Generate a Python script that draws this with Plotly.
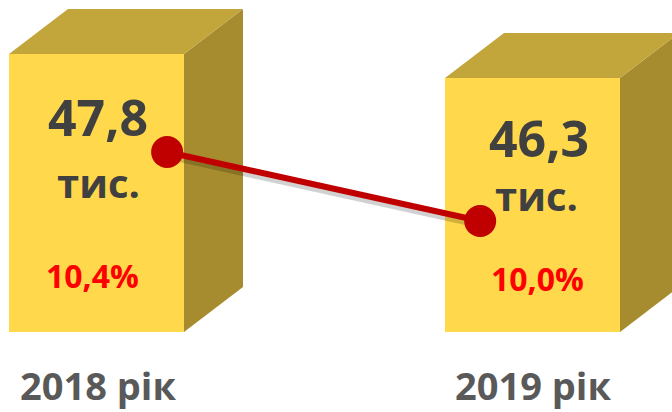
import plotly.graph_objects as go

# ---- data ----
years = ["2018 рік", "2019 рік"]
values = [47.8, 46.3]             # тис.
value_labels = ["47,8", "46,3"]
unit_label = "тис."
shares = [10.4, 10.0]             # %
share_labels = ["10,4%", "10,0%"]

# ---- layout constants (pixel geometry) ----
W, H = 672, 412
FRONT = "#FFD84B"
TOP = "#C3A63B"
SIDE = "#A68B2F"
LINE = "#C00000"

idx = [0, 1]
px_per_x = 436.0
x0_px = 96.5
xr = [-x0_px / px_per_x, (W - x0_px) / px_per_x]
bar_w = 175.0 / px_per_x
dx = 59.0 / px_per_x

px_per_v = 16.0
v_top = values[0] + 54.0 / px_per_v
yr = [v_top - H / px_per_v, v_top]
base = v_top - 332.0 / px_per_v
dy = 45.0 / px_per_v

px_per_s = 172.5
s_top = shares[0] + 152.0 / px_per_s
y2r = [s_top - H / px_per_s, s_top]
line_x = [i + off for i, off in zip(idx, [0.162, -0.12])]

fig = go.Figure()

# 3D side and top faces
for i, v in zip(idx, values):
    xl, xrr = i - bar_w / 2, i + bar_w / 2
    fig.add_trace(go.Scatter(
        x=[xrr, xrr + dx, xrr + dx, xrr, xrr],
        y=[v, v + dy, base + dy, base, v],
        fill="toself", fillcolor=SIDE, line=dict(width=0), mode="lines",
        hoverinfo="skip", showlegend=False))
    fig.add_trace(go.Scatter(
        x=[xl, xl + dx, xrr + dx, xrr, xl],
        y=[v, v + dy, v + dy, v, v],
        fill="toself", fillcolor=TOP, line=dict(width=0), mode="lines",
        hoverinfo="skip", showlegend=False))

# front faces
fig.add_trace(go.Bar(
    x=idx, y=[v - base for v in values], base=base, width=bar_w,
    marker=dict(color=FRONT, line=dict(width=0)), showlegend=False,
    hoverinfo="skip"))

# line shadow
fig.add_trace(go.Scatter(
    x=[x + 0.006 for x in line_x], y=[s - 0.025 for s in shares], yaxis="y2",
    mode="lines", line=dict(color="rgba(0,0,0,0.18)", width=7),
    hoverinfo="skip", showlegend=False))
# share line
fig.add_trace(go.Scatter(
    x=line_x, y=shares, yaxis="y2", mode="lines+markers",
    line=dict(color=LINE, width=6),
    marker=dict(color=LINE, size=32),
    hoverinfo="skip", showlegend=False))

def P(x, y):
    return x / W, 1 - y / H

ann = []
val_pos = [(98, 117), (539, 138)]
unit_pos = [(98, 182), (536, 195)]
share_pos = [(92, 275), (537, 278)]
year_pos = [(98, 385), (533, 385)]
for k in range(2):
    x, y = P(*val_pos[k])
    ann.append(dict(x=x, y=y, text=value_labels[k], font=dict(size=50, color="#404040", family="Open Sans", weight="bold")))
    x, y = P(*unit_pos[k])
    ann.append(dict(x=x, y=y, text=unit_label, font=dict(size=40, color="#404040", family="Open Sans", weight="bold")))
    x, y = P(*share_pos[k])
    ann.append(dict(x=x, y=y, text=share_labels[k], font=dict(size=32, color="#FF0000", family="Open Sans", weight="bold")))
    x, y = P(*year_pos[k])
    ann.append(dict(x=x, y=y, text=years[k], font=dict(size=38, color="#595959", family="Open Sans", weight="bold")))
for a in ann:
    a.update(xref="paper", yref="paper", showarrow=False, xanchor="center", yanchor="middle")

fig.update_layout(
    width=W, height=H, margin=dict(l=0, r=0, t=0, b=0),
    paper_bgcolor="white", plot_bgcolor="white",
    xaxis=dict(range=xr, visible=False, fixedrange=True),
    yaxis=dict(range=yr, visible=False, fixedrange=True),
    yaxis2=dict(range=y2r, visible=False, overlaying="y", fixedrange=True),
    annotations=ann, barmode="overlay",
)
fig.write_html("out.html", config={"displayModeBar": False},
               post_script="document.body.style.margin='0px';document.body.style.overflow='hidden';")
